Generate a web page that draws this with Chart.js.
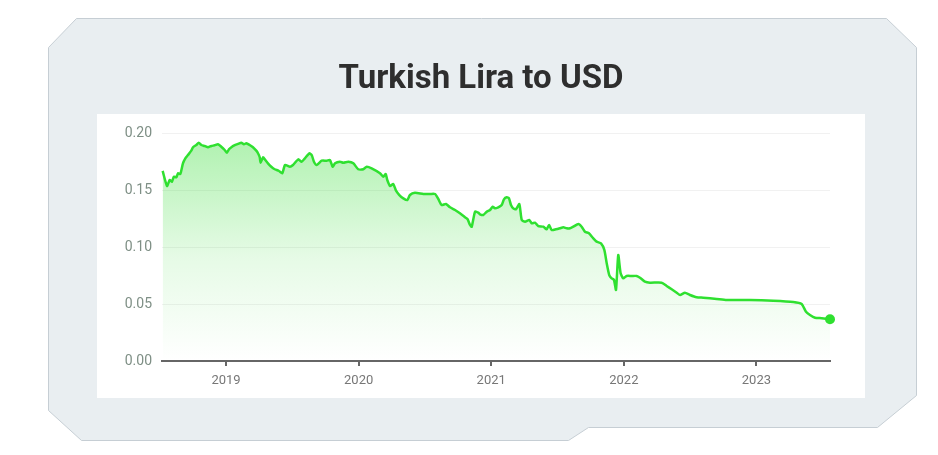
<!DOCTYPE html>
<html>
<head>
<meta charset="utf-8">
<script src="https://cdn.jsdelivr.net/npm/chart.js@4.4.0/dist/chart.umd.min.js"></script>
<style>
  html, body { margin: 0; padding: 0; background: #fff; }
  #wrap { width: 938px; height: 455px; position: relative; }
</style>
</head>
<body>
<div id="wrap"><canvas id="lira" width="938" height="455"></canvas></div>
<script>
// 時間（以小數年表示）與匯率
const years = [
  2018.522, 2018.555, 2018.575, 2018.592, 2018.607, 2018.625, 2018.638, 2018.655, 2018.675, 2018.693,
  2018.713, 2018.738, 2018.751, 2018.776, 2018.794, 2018.813, 2018.839, 2018.864, 2018.889, 2018.914,
  2018.939, 2018.964, 2018.990, 2019.007, 2019.022, 2019.045, 2019.070, 2019.090, 2019.115, 2019.135,
  2019.153, 2019.178, 2019.203, 2019.228, 2019.241, 2019.254, 2019.261, 2019.279, 2019.296, 2019.316,
  2019.341, 2019.367, 2019.397, 2019.424, 2019.445, 2019.482, 2019.505, 2019.545, 2019.570, 2019.595,
  2019.628, 2019.646, 2019.663, 2019.684, 2019.721, 2019.759, 2019.784, 2019.804, 2019.822, 2019.859,
  2019.884, 2019.922, 2019.960, 2019.997, 2020.035, 2020.061, 2020.098, 2020.161, 2020.186, 2020.204,
  2020.216, 2020.237, 2020.261, 2020.282, 2020.307, 2020.337, 2020.367, 2020.387, 2020.425, 2020.488,
  2020.538, 2020.576, 2020.601, 2020.626, 2020.659, 2020.689, 2020.727, 2020.764, 2020.802, 2020.822,
  2020.840, 2020.853, 2020.878, 2020.902, 2020.915, 2020.940, 2020.966, 2020.991, 2021.011, 2021.028,
  2021.053, 2021.079, 2021.096, 2021.117, 2021.134, 2021.149, 2021.166, 2021.187, 2021.212, 2021.230,
  2021.255, 2021.287, 2021.305, 2021.330, 2021.355, 2021.393, 2021.418, 2021.436, 2021.456, 2021.488,
  2021.518, 2021.544, 2021.569, 2021.594, 2021.619, 2021.657, 2021.682, 2021.707, 2021.737, 2021.770,
  2021.795, 2021.828, 2021.853, 2021.871, 2021.890, 2021.908, 2021.926, 2021.941, 2021.958, 2021.976,
  2021.996, 2022.021, 2022.059, 2022.097, 2022.122, 2022.159, 2022.197, 2022.285, 2022.323, 2022.361,
  2022.399, 2022.424, 2022.461, 2022.499, 2022.549, 2022.599, 2022.700, 2022.776, 2022.951, 2023.127,
  2023.278, 2023.341, 2023.374, 2023.404, 2023.442, 2023.492, 2023.555
];
const rates = [
  0.1667, 0.1535, 0.1588, 0.1573, 0.1617, 0.1611, 0.1647, 0.1640, 0.1734, 0.1778,
  0.1807, 0.1845, 0.1875, 0.1895, 0.1915, 0.1895, 0.1886, 0.1875, 0.1886, 0.1892,
  0.1901, 0.1880, 0.1851, 0.1827, 0.1857, 0.1880, 0.1895, 0.1904, 0.1915, 0.1901,
  0.1910, 0.1895, 0.1875, 0.1845, 0.1822, 0.1787, 0.1739, 0.1787, 0.1763, 0.1734,
  0.1704, 0.1682, 0.1669, 0.1647, 0.1719, 0.1704, 0.1719, 0.1769, 0.1748, 0.1778,
  0.1822, 0.1807, 0.1748, 0.1719, 0.1757, 0.1757, 0.1763, 0.1704, 0.1734, 0.1748,
  0.1739, 0.1748, 0.1734, 0.1682, 0.1682, 0.1704, 0.1690, 0.1647, 0.1617, 0.1640,
  0.1588, 0.1535, 0.1553, 0.1494, 0.1456, 0.1427, 0.1412, 0.1456, 0.1476, 0.1465,
  0.1465, 0.1465, 0.1421, 0.1368, 0.1377, 0.1348, 0.1325, 0.1296, 0.1261, 0.1243,
  0.1193, 0.1178, 0.1310, 0.1301, 0.1287, 0.1281, 0.1310, 0.1325, 0.1354, 0.1339,
  0.1348, 0.1368, 0.1418, 0.1436, 0.1427, 0.1368, 0.1339, 0.1331, 0.1377, 0.1237,
  0.1222, 0.1237, 0.1208, 0.1213, 0.1184, 0.1178, 0.1155, 0.1193, 0.1149, 0.1155,
  0.1164, 0.1173, 0.1164, 0.1164, 0.1178, 0.1202, 0.1178, 0.1134, 0.1120, 0.1076,
  0.1047, 0.1032, 0.0974, 0.0857, 0.0754, 0.0725, 0.0711, 0.0623, 0.0930, 0.0769,
  0.0725, 0.0746, 0.0746, 0.0746, 0.0731, 0.0696, 0.0687, 0.0687, 0.0658, 0.0629,
  0.0599, 0.0579, 0.0599, 0.0579, 0.0559, 0.0555, 0.0544, 0.0535, 0.0535, 0.0529,
  0.0518, 0.0500, 0.0432, 0.0404, 0.0380, 0.0375, 0.0366
];
const yearTicks = [2019, 2020, 2021, 2022, 2023];
const rateTicks = [0, 0.05, 0.10, 0.15, 0.20];

const GREEN = '#2fe030';

// 背景面板 + 白色圖表區 + 標題
const panelPlugin = {
  id: 'panel',
  beforeDraw(chart) {
    const ctx = chart.ctx;
    ctx.save();
    const pts = [[76,18],[886,18],[916,47],[916,395],[877,427],[588,427],[568,440],[81,440],[48,410],[48,47]];
    ctx.beginPath();
    pts.forEach((p, i) => i ? ctx.lineTo(p[0] + 0.5, p[1] + 0.5) : ctx.moveTo(p[0] + 0.5, p[1] + 0.5));
    ctx.closePath();
    ctx.fillStyle = '#e9eef1';
    ctx.fill();
    ctx.strokeStyle = '#c6ced4';
    ctx.lineWidth = 1;
    ctx.stroke();
    ctx.fillStyle = '#ffffff';
    ctx.fillRect(97, 114, 768, 284);
    ctx.fillStyle = '#2e2e2e';
    ctx.font = 'bold 33px Roboto';
    ctx.textAlign = 'center';
    ctx.textBaseline = 'alphabetic';
    ctx.fillText('Turkish Lira to USD', 481, 88);
    ctx.restore();
  }
};

new Chart(document.getElementById('lira').getContext('2d'), {
  type: 'line',
  data: {
    datasets: [{
      data: years.map((x, i) => ({ x: x, y: rates[i] })),
      borderColor: GREEN,
      borderWidth: 2.5,
      tension: 0.2,
      fill: 'origin',
      clip: false,
      backgroundColor: ctx => {
        const area = ctx.chart.chartArea;
        if (!area) return 'rgba(50,220,50,0.2)';
        const g = ctx.chart.ctx.createLinearGradient(0, area.top, 0, area.bottom);
        g.addColorStop(0, 'rgba(50,220,50,0.40)');
        g.addColorStop(0.55, 'rgba(50,220,50,0.12)');
        g.addColorStop(1, 'rgba(50,220,50,0)');
        return g;
      },
      pointRadius: ctx => ctx.dataIndex === rates.length - 1 ? 5 : 0,
      pointBackgroundColor: GREEN,
      pointBorderWidth: 0,
      pointHoverRadius: 0
    }]
  },
  options: {
    responsive: false,
    animation: false,
    layout: { padding: { left: 97, top: 133, right: 108, bottom: 57 } },
    plugins: {
      legend: { display: false },
      title: { display: false },
      tooltip: { enabled: false }
    },
    scales: {
      x: {
        type: 'linear',
        min: 2018.517,
        max: 2023.555,
        afterBuildTicks: s => { s.ticks = yearTicks.map(v => ({ value: v })); },
        afterFit: s => { s.height = 37; },
        grid: { drawOnChartArea: false, drawTicks: true, tickLength: 5, color: '#666', lineWidth: 2 },
        border: { color: '#666', width: 2 },
        ticks: { autoSkip: false, maxRotation: 0, padding: 7, color: '#777', font: { family: 'Roboto', size: 13 }, callback: v => String(v) }
      },
      y: {
        min: 0,
        max: 0.2,
        afterBuildTicks: s => { s.ticks = rateTicks.map(v => ({ value: v })); },
        afterFit: s => { s.width = 65; },
        grid: { color: '#f1f1f1', lineWidth: 1, drawTicks: false },
        border: { display: false },
        ticks: { padding: 10, color: '#7e8f85', font: { family: 'Roboto', size: 14 }, callback: v => v.toFixed(2) }
      }
    }
  },
  plugins: [panelPlugin]
});
</script>
</body>
</html>
